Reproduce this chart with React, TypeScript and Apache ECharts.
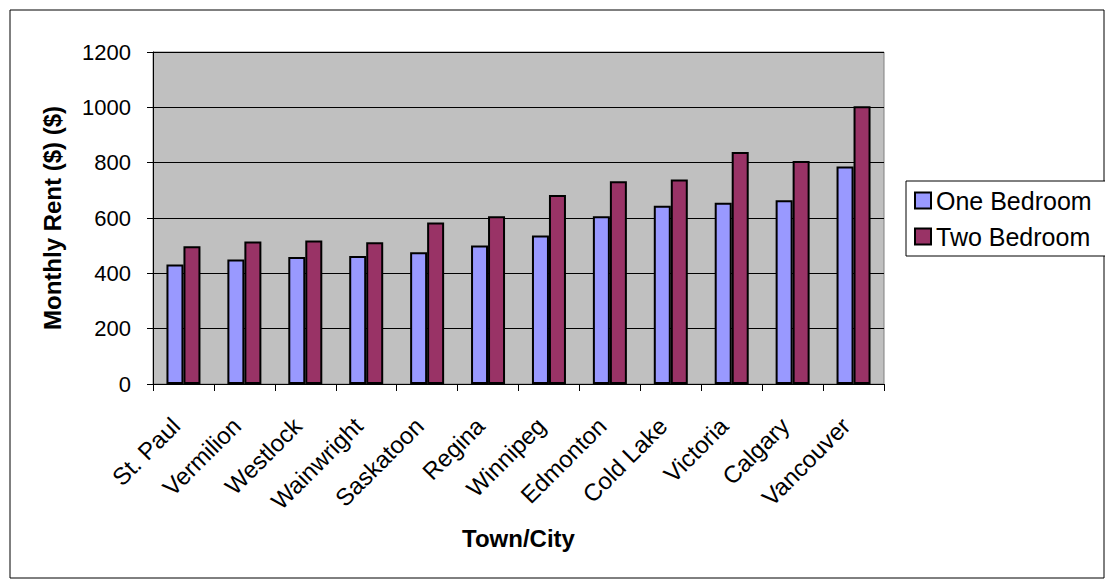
import React, { useEffect, useRef } from "react";
import * as echarts from "echarts";

const categories = [
  "St. Paul", "Vermilion", "Westlock", "Wainwright", "Saskatoon", "Regina",
  "Winnipeg", "Edmonton", "Cold Lake", "Victoria", "Calgary", "Vancouver",
];
const oneBedroom = [432, 450, 459, 463, 476, 501, 537, 606, 644, 655, 664, 786];
const twoBedroom = [498, 515, 519, 512, 584, 606, 683, 733, 739, 839, 806, 1004];
const yTicks = { min: 0, max: 1200, interval: 200 };

const FONT = "'Liberation Sans', Arial, sans-serif";

export default function App() {
  const ref = useRef<HTMLDivElement>(null);
  useEffect(() => {
    if (!ref.current) return;
    const chart = echarts.init(ref.current, undefined, { renderer: "svg" });
    chart.setOption({
      animation: false,
      backgroundColor: "#FFFFFF",
      textStyle: { fontFamily: FONT },
      graphic: [
        {
          type: "rect",
          shape: { x: 10, y: 10, width: 1094, height: 568 },
          style: { fill: "none", stroke: "#000", lineWidth: 1 },
          silent: true,
        },
      ],
      grid: {
        left: 153,
        top: 52,
        right: 221,
        bottom: 198,
        show: true,
        backgroundColor: "#C0C0C0",
        borderColor: "#808080",
        borderWidth: 1,
      },
      legend: {
        orient: "vertical",
        left: 906,
        top: 181,
        padding: [7, 14, 7, 8],
        itemGap: 11,
        itemWidth: 16,
        itemHeight: 16,
        icon: "rect",
        borderColor: "#000",
        borderWidth: 1,
        backgroundColor: "#FFFFFF",
        textStyle: { fontFamily: FONT, fontSize: 25, color: "#000", lineHeight: 25 },
        data: ["One Bedroom", "Two Bedroom"],
      },
      xAxis: {
        type: "category",
        data: categories,
        name: "Town/City",
        nameLocation: "middle",
        nameGap: 142,
        nameTextStyle: { fontFamily: FONT, fontSize: 24, fontWeight: "bold", color: "#000" },
        axisLine: { lineStyle: { color: "#000", width: 1 } },
        axisTick: { show: true, length: 7, lineStyle: { color: "#000" } },
        axisLabel: {
          rotate: 45,
          margin: 30,
          padding: [0, 11, 0, 0],
          fontFamily: FONT,
          fontSize: 24,
          color: "#000",
          interval: 0,
        },
        splitLine: { show: false },
      },
      yAxis: {
        type: "value",
        min: yTicks.min,
        max: yTicks.max,
        interval: yTicks.interval,
        name: "Monthly Rent ($) ($)",
        nameLocation: "middle",
        nameGap: 89,
        nameTextStyle: { fontFamily: FONT, fontSize: 24, fontWeight: "bold", color: "#000" },
        axisLine: { show: true, lineStyle: { color: "#000", width: 1 } },
        axisTick: { show: true, length: 6, lineStyle: { color: "#000" } },
        axisLabel: {
          margin: 22,
          fontFamily: FONT,
          fontSize: 22,
          color: "#000",
          formatter: (v: number) => String(v),
        },
        splitLine: { show: true, lineStyle: { color: "#000", width: 1 } },
      },
      series: [
        {
          name: "One Bedroom",
          type: "bar",
          data: oneBedroom,
          barWidth: 17,
          barGap: "0%",
          itemStyle: { color: "#9999FF", borderColor: "#000", borderWidth: 2 },
        },
        {
          name: "Two Bedroom",
          type: "bar",
          data: twoBedroom,
          barWidth: 17,
          barGap: "0%",
          itemStyle: { color: "#993366", borderColor: "#000", borderWidth: 2 },
        },
      ],
    });
    return () => chart.dispose();
  }, []);
  return (
    <div
      ref={ref}
      style={{ position: "absolute", left: 0, top: 0, width: 1105, height: 582 }}
    />
  );
}
